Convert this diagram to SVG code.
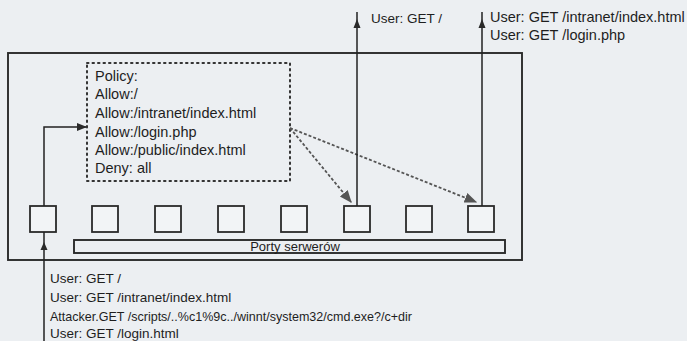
<svg xmlns="http://www.w3.org/2000/svg" width="687" height="341" viewBox="0 0 687 341">
  <style>
    .frame { fill: none; stroke: #2a2a2a; stroke-width: 1.9; }
    .port { fill: #f2f4f6; stroke: #2a2a2a; stroke-width: 1.8; }
    .policy { fill: none; stroke: #333; stroke-width: 2; stroke-dasharray: 1.5 4; stroke-linecap: round; }
    .wire { fill: none; stroke: #222; stroke-width: 1.5; }
    .dash { fill: none; stroke: #555; stroke-width: 1.8; stroke-dasharray: 3 2; }
    .head { fill: #2a2a2a; }
    .dhead { fill: #555; }
    text { font-family: "Liberation Sans", Arial, sans-serif; font-size: 13.5px; fill: #1e1e1e; }
    .big { font-size: 14.5px; }
    .small { font-size: 13px; }
  </style>
  <defs>
    <marker id="tri" viewBox="0 0 10 10" refX="9" refY="5" markerWidth="7" markerHeight="7" orient="auto">
      <path d="M0,1 L10,5 L0,9 z" class="head"/>
    </marker>
    <marker id="dtri" viewBox="0 0 10 10" refX="9" refY="5" markerWidth="7" markerHeight="7" orient="auto">
      <path d="M0,1 L10,5 L0,9 z" class="dhead"/>
    </marker>
  </defs>

  <rect width="687" height="341" fill="#eceff2"/>

  <!-- firewall / server frame -->
  <g id="frame">
    <rect class="frame" x="8" y="53" width="514" height="207"/>
  </g>

  <!-- policy table -->
  <g id="policy">
    <rect class="policy" x="87" y="63" width="203" height="118"/>
    <text class="big" x="95" y="81">Policy:</text>
    <text class="big" x="95" y="99">Allow:/</text>
    <text class="big" x="95" y="118">Allow:/intranet/index.html</text>
    <text class="big" x="95" y="137">Allow:/login.php</text>
    <text class="big" x="95" y="155">Allow:/public/index.html</text>
    <text class="big" x="95" y="173">Deny: all</text>
  </g>

  <!-- server ports -->
  <g id="port1"><rect class="port" x="30" y="206" width="26" height="26"/></g>
  <g id="port2"><rect class="port" x="92" y="206" width="26" height="26"/></g>
  <g id="port3"><rect class="port" x="155" y="206" width="26" height="26"/></g>
  <g id="port4"><rect class="port" x="218" y="206" width="26" height="26"/></g>
  <g id="port5"><rect class="port" x="281" y="206" width="26" height="26"/></g>
  <g id="port6"><rect class="port" x="344" y="206" width="26" height="26"/></g>
  <g id="port7"><rect class="port" x="406" y="206" width="26" height="26"/></g>
  <g id="port8"><rect class="port" x="468" y="206" width="26" height="26"/></g>

  <g id="ports-label">
    <rect class="frame" x="74" y="240" width="431" height="13" stroke-width="1.4"/>
    <text class="small" x="295" y="251" text-anchor="middle">Porty serwerów</text>
  </g>

  <!-- traffic -->
  <g id="connectors">
    <!-- incoming requests -->
    <line class="wire" x1="44" y1="341" x2="44" y2="232"/>
    <path class="head" d="M44,242 L40.5,250 L47.5,250 z"/>
    <path class="wire" d="M44,206 V127 H86" marker-end="url(#tri)"/>
    <!-- checked requests towards servers -->
    <line class="dash" x1="290" y1="128" x2="351" y2="202" marker-end="url(#dtri)"/>
    <line class="dash" x1="290" y1="128" x2="476" y2="202" marker-end="url(#dtri)"/>
    <!-- forwarded requests leaving -->
    <line class="wire" x1="357" y1="206" x2="357" y2="12"/>
    <path class="head" d="M357,19 L353.5,28 L360.5,28 z"/>
    <line class="wire" x1="482" y1="206" x2="482" y2="12"/>
    <path class="head" d="M482,19 L478.5,28 L485.5,28 z"/>
  </g>

  <g id="labels">
    <text x="371" y="23">User: GET /</text>
    <text class="big" x="490" y="22">User: GET /intranet/index.html</text>
    <text class="big" x="490" y="40">User: GET /login.php</text>
    <text x="50" y="283">User: GET /</text>
    <text x="50" y="302">User: GET /intranet/index.html</text>
    <text x="50" y="321" textLength="362" lengthAdjust="spacingAndGlyphs">Attacker.GET /scripts/..%c1%9c../winnt/system32/cmd.exe?/c+dir</text>
    <text x="50" y="338">User: GET /login.html</text>
  </g>
</svg>
